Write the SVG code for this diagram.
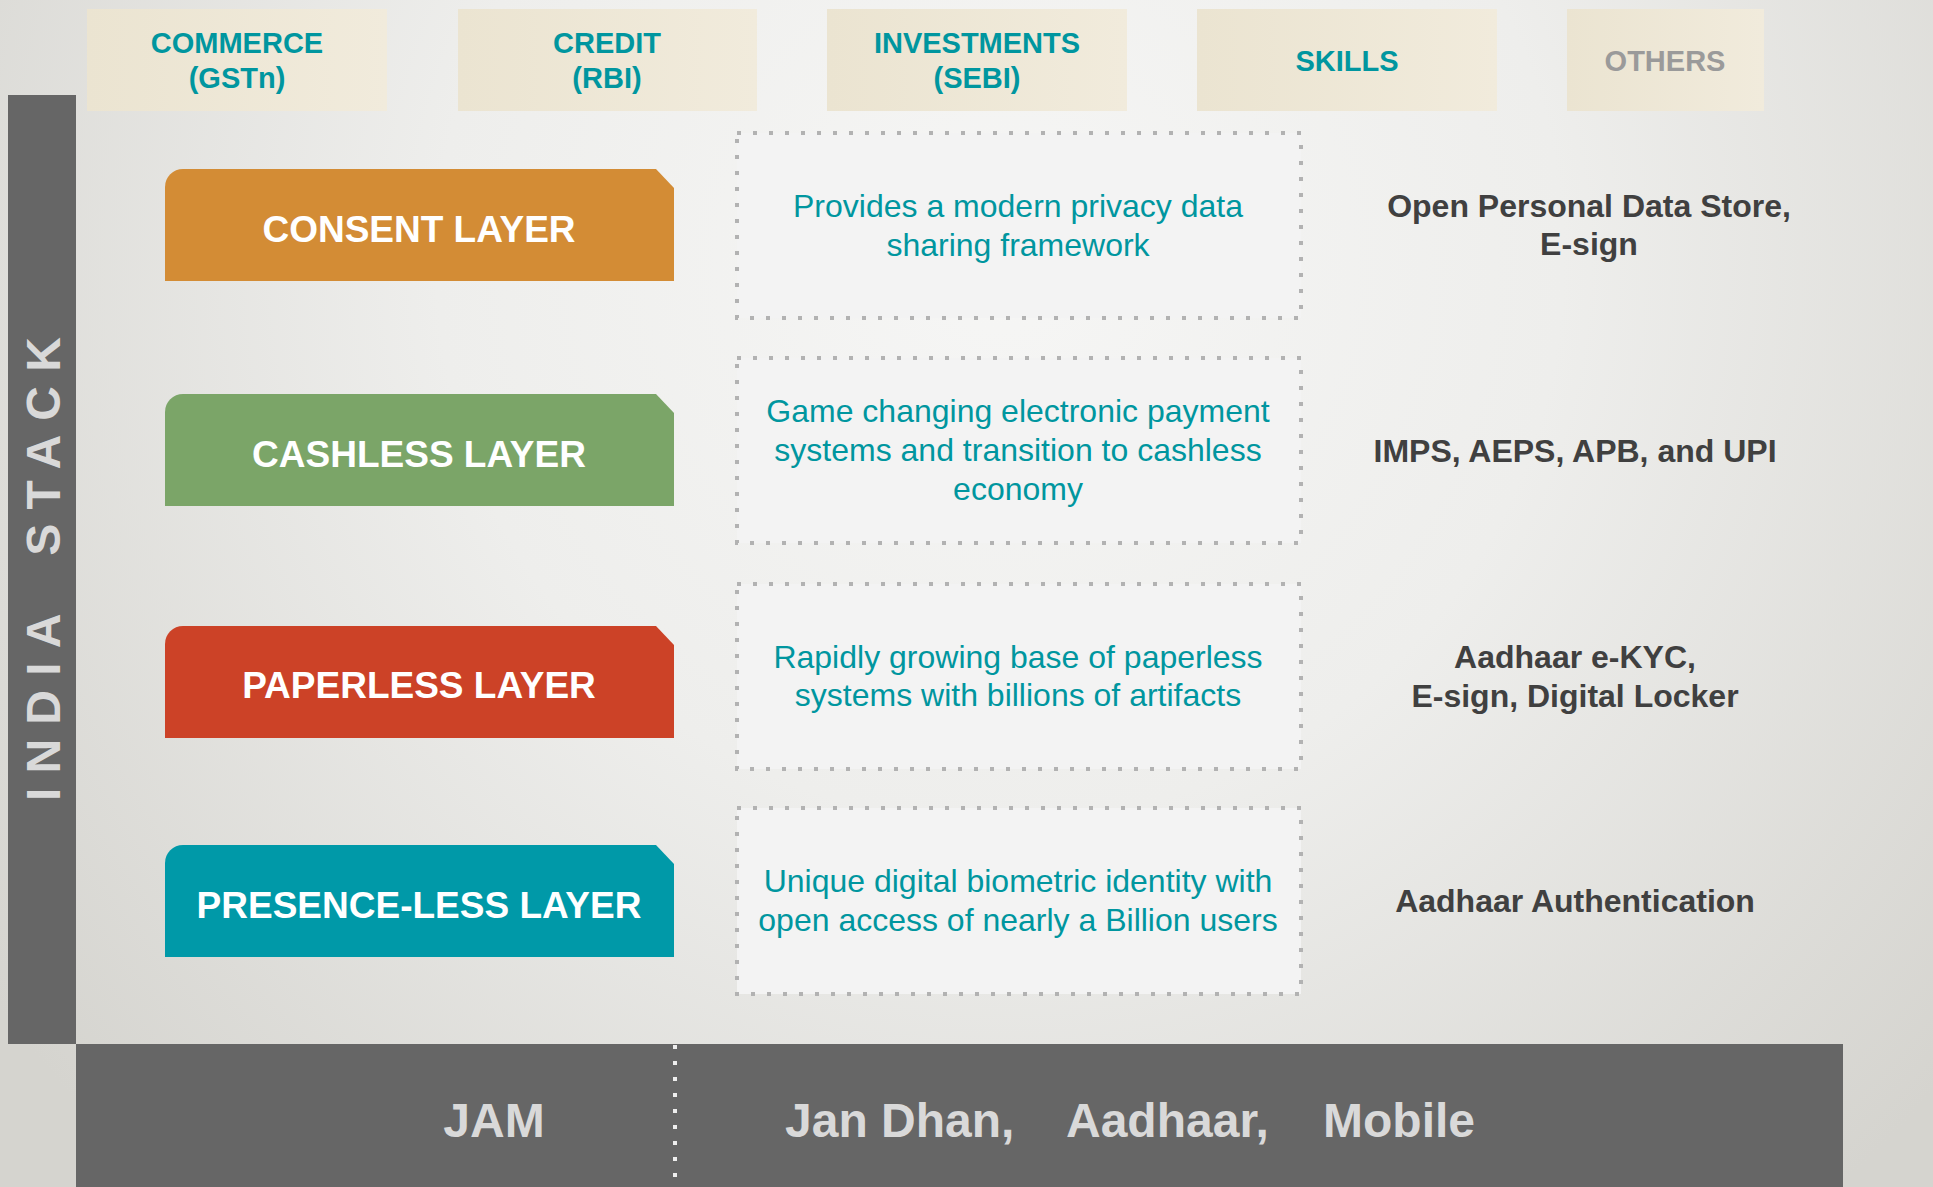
<svg xmlns="http://www.w3.org/2000/svg" xmlns:xlink="http://www.w3.org/1999/xlink" width="1933" height="1187" viewBox="0 0 1933 1187">
<defs>
  <radialGradient id="bg" gradientUnits="userSpaceOnUse" cx="1000" cy="260" r="1250">
    <stop offset="0" stop-color="#f6f6f5"/>
    <stop offset="0.45" stop-color="#eeeeec"/>
    <stop offset="1" stop-color="#d5d4cf"/>
  </radialGradient>
  <linearGradient id="cat" x1="0" y1="0" x2="1" y2="0">
    <stop offset="0" stop-color="#ebe4d1"/>
    <stop offset="1" stop-color="#f1ebdc"/>
  </linearGradient>
  <path id="layerShape" d="M0,112 V18 A18,18 0 0 1 18,0 H491 L509,19 V112 Z"/>
  <style>
    .cat { fill: url(#cat); }
    .catT { font-family: "Liberation Sans", Arial, sans-serif; font-weight: bold; font-size: 29px; fill: #00969f; text-anchor: middle; }
    .layT { font-family: "Liberation Sans", Arial, sans-serif; font-weight: bold; font-size: 37px; fill: #ffffff; text-anchor: middle; }
    .desc { fill: #f3f3f3; stroke: #b2b2b2; stroke-width: 4; stroke-dasharray: 4 12; }
    .descT { font-family: "Liberation Sans", Arial, sans-serif; font-size: 32px; fill: #00969f; text-anchor: middle; }
    .rT { font-family: "Liberation Sans", Arial, sans-serif; font-weight: bold; font-size: 32px; fill: #404040; text-anchor: middle; }
    .jamT { font-family: "Liberation Sans", Arial, sans-serif; font-weight: bold; font-size: 48px; fill: #d9d9d9; }
  </style>
</defs>

<rect x="0" y="0" width="1933" height="1187" fill="url(#bg)"/>

<!-- India Stack side bar -->
<g id="india-stack">
  <rect x="8" y="95" width="68" height="949" fill="#666666"/>
  <text transform="translate(60,562) rotate(-90)" text-anchor="middle" font-family="Liberation Sans, Arial, sans-serif" font-weight="bold" font-size="48" fill="#d9d9d9" letter-spacing="14.2" word-spacing="18">INDIA STACK</text>
</g>

<!-- Category headers -->
<g id="cat-commerce">
  <rect class="cat" x="87" y="9" width="300" height="102"/>
  <text class="catT" x="237" y="53">COMMERCE</text>
  <text class="catT" x="237" y="88">(GSTn)</text>
</g>
<g id="cat-credit">
  <rect class="cat" x="458" y="9" width="299" height="102"/>
  <text class="catT" x="607" y="53">CREDIT</text>
  <text class="catT" x="607" y="88">(RBI)</text>
</g>
<g id="cat-investments">
  <rect class="cat" x="827" y="9" width="300" height="102"/>
  <text class="catT" x="977" y="53">INVESTMENTS</text>
  <text class="catT" x="977" y="88">(SEBI)</text>
</g>
<g id="cat-skills">
  <rect class="cat" x="1197" y="9" width="300" height="102"/>
  <text class="catT" x="1347" y="71">SKILLS</text>
</g>
<g id="cat-others">
  <rect class="cat" x="1567" y="9" width="197" height="102"/>
  <text class="catT" x="1665" y="71" style="fill:#9a9a9a">OTHERS</text>
</g>

<!-- Layers -->
<g id="layer-consent">
  <use xlink:href="#layerShape" href="#layerShape" x="165" y="169" fill="#d38c35"/>
  <text class="layT" x="419" y="242">CONSENT LAYER</text>
</g>
<g id="layer-cashless">
  <use xlink:href="#layerShape" href="#layerShape" x="165" y="394" fill="#7ba568"/>
  <text class="layT" x="419" y="467">CASHLESS LAYER</text>
</g>
<g id="layer-paperless">
  <use xlink:href="#layerShape" href="#layerShape" x="165" y="626" fill="#cc4227"/>
  <text class="layT" x="419" y="698">PAPERLESS LAYER</text>
</g>
<g id="layer-presenceless">
  <use xlink:href="#layerShape" href="#layerShape" x="165" y="845" fill="#0099a8"/>
  <text class="layT" x="419" y="918">PRESENCE-LESS LAYER</text>
</g>

<!-- Descriptions -->
<g id="desc-consent">
  <rect class="desc" x="737" y="133" width="564" height="185"/>
  <text class="descT" x="1018" y="217">Provides a modern privacy data</text>
  <text class="descT" x="1018" y="256">sharing framework</text>
</g>
<g id="desc-cashless">
  <rect class="desc" x="737" y="358" width="564" height="185"/>
  <text class="descT" x="1018" y="422">Game changing electronic payment</text>
  <text class="descT" x="1018" y="461">systems and transition to cashless</text>
  <text class="descT" x="1018" y="500">economy</text>
</g>
<g id="desc-paperless">
  <rect class="desc" x="737" y="584" width="564" height="185"/>
  <text class="descT" x="1018" y="668">Rapidly growing base of paperless</text>
  <text class="descT" x="1018" y="706">systems with billions of artifacts</text>
</g>
<g id="desc-presenceless">
  <rect class="desc" x="737" y="808" width="564" height="186"/>
  <text class="descT" x="1018" y="892">Unique digital biometric identity with</text>
  <text class="descT" x="1018" y="931">open access of nearly a Billion users</text>
</g>

<!-- Right side examples -->
<g id="ex-consent">
  <text class="rT" x="1589" y="217">Open Personal Data Store,</text>
  <text class="rT" x="1589" y="255">E-sign</text>
</g>
<g id="ex-cashless">
  <text class="rT" x="1575" y="462">IMPS, AEPS, APB, and UPI</text>
</g>
<g id="ex-paperless">
  <text class="rT" x="1575" y="668">Aadhaar e-KYC,</text>
  <text class="rT" x="1575" y="707">E-sign, Digital Locker</text>
</g>
<g id="ex-presenceless">
  <text class="rT" x="1575" y="912">Aadhaar Authentication</text>
</g>

<!-- JAM bottom bar -->
<g id="jam">
  <rect x="76" y="1044" width="1767" height="143" fill="#666666"/>
  <line x1="675" y1="1045" x2="675" y2="1187" stroke="#eeeeee" stroke-width="4" stroke-dasharray="4 12"/>
  <text class="jamT" x="494" y="1137" text-anchor="middle">JAM</text>
  <text class="jamT" x="785" y="1137">Jan Dhan,</text>
  <text class="jamT" x="1066" y="1137">Aadhaar,</text>
  <text class="jamT" x="1323" y="1137">Mobile</text>
</g>

<g id="connectors"></g>
</svg>
